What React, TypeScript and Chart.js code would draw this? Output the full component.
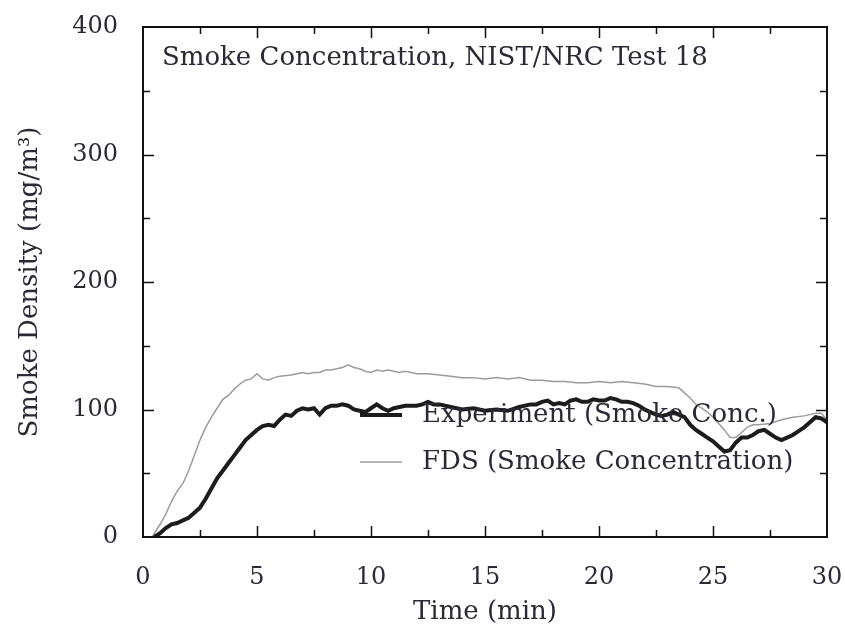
import { useEffect, useRef } from 'react';
import { Chart, registerables } from 'chart.js';

Chart.register(...registerables);

// ---- Data ----
const expTime = [
  0.5, 0.75, 1.0, 1.25, 1.5, 1.75, 2.0, 2.25, 2.5, 2.75, 3.0, 3.25, 3.5, 3.75, 4.0, 4.25, 4.5, 4.75,
  5.0, 5.25, 5.5, 5.75, 6.0, 6.25, 6.5, 6.75, 7.0, 7.25, 7.5, 7.75, 8.0, 8.25, 8.5, 8.75, 9.0, 9.25,
  9.5, 9.75, 10.0, 10.25, 10.5, 10.75, 11.0, 11.25, 11.5, 11.75, 12.0, 12.25, 12.5, 12.75, 13.0, 13.5,
  14.0, 14.5, 15.0, 15.5, 16.0, 16.5, 17.0, 17.25, 17.5, 17.75, 18.0, 18.25, 18.5, 18.75, 19.0, 19.25,
  19.5, 19.75, 20.0, 20.25, 20.5, 20.75, 21.0, 21.25, 21.5, 21.75, 22.0, 22.25, 22.5, 22.75, 23.0,
  23.25, 23.5, 23.75, 24.0, 24.25, 24.5, 24.75, 25.0, 25.25, 25.5, 25.75, 26.0, 26.25, 26.5, 26.75,
  27.0, 27.25, 27.5, 27.75, 28.0, 28.25, 28.5, 28.75, 29.0, 29.25, 29.5, 29.75, 30.0,
];
const expValue = [
  0, 3, 7, 10, 11, 13, 15, 19, 23, 30, 38, 46, 52, 58, 64, 70, 76, 80,
  84, 87, 88, 87, 92, 96, 95, 99, 101, 100, 101, 96, 101, 103, 103, 104, 103, 100,
  99, 98, 101, 104, 101, 99, 101, 102, 103, 103, 103, 104, 106, 104, 104, 102,
  100, 101, 99, 100, 99, 102, 104, 104, 106, 107, 104, 105, 104, 107, 108, 106,
  106, 108, 107, 107, 109, 108, 106, 106, 105, 103, 100, 98, 96, 95, 96,
  98, 96, 94, 88, 84, 81, 78, 75, 71, 67, 68, 74, 78, 78, 80,
  83, 84, 81, 78, 76, 78, 80, 83, 86, 90, 94, 93, 90,
];

const fdsTime = [
  0.4, 0.75, 1.0, 1.25, 1.5, 1.75, 2.0, 2.25, 2.5, 2.75, 3.0, 3.25, 3.5, 3.75, 4.0, 4.25, 4.5, 4.75,
  5.0, 5.25, 5.5, 5.75, 6.0, 6.5, 7.0, 7.25, 7.5, 7.75, 8.0, 8.25, 8.5, 8.75, 9.0, 9.25, 9.5, 9.75,
  10.0, 10.25, 10.5, 10.75, 11.0, 11.25, 11.5, 12.0, 12.5, 13.0, 13.5, 14.0, 14.5, 15.0, 15.5, 16.0,
  16.5, 17.0, 17.5, 18.0, 18.5, 19.0, 19.5, 20.0, 20.5, 21.0, 21.5, 22.0, 22.5, 23.0, 23.5, 23.75,
  24.0, 24.25, 24.5, 24.75, 25.0, 25.25, 25.5, 25.75, 26.0, 26.25, 26.5, 26.75, 27.0, 27.5, 28.0,
  28.5, 29.0, 29.5, 29.75, 30.0,
];
const fdsValue = [
  0, 10, 18, 28, 36, 42, 52, 64, 76, 86, 94, 101, 108, 111, 116, 120, 123, 124,
  128, 124, 123, 125, 126, 127, 129, 128, 129, 129, 131, 131, 132, 133, 135, 133, 132, 130,
  129, 131, 130, 131, 130, 129, 130, 128, 128, 127, 126, 125, 125, 124, 125, 124,
  125, 123, 123, 122, 122, 121, 121, 122, 121, 122, 121, 120, 118, 118, 117, 113,
  109, 104, 101, 98, 94, 89, 84, 78, 78, 82, 86, 88, 88, 89, 92,
  94, 95, 97, 97, 92,
];

const seriesNames = ['Experiment (Smoke Conc.)', 'FDS (Smoke Concentration)'];
const seriesColors = ['#1c1c1c', '#9c9c9c'];
const seriesWidths = [4, 1.5];

const chartTitle = 'Smoke Concentration, NIST/NRC Test 18';
const xAxisTitle = 'Time (min)';
const yAxisTitle = 'Smoke Density (mg/m³)';

const xMin = 0;
const xMax = 30;
const xStep = 2.5;
const xLabelEvery = 5;
const yMin = 0;
const yMax = 400;
const yStep = 50;
const yLabelEvery = 100;

const FONT = '"DejaVu Serif", "Liberation Serif", serif';
const TEXT_COLOR = '#2a2a36';

const framePlugin = {
  id: 'framePlugin',
  afterDatasetsDraw(chart: any) {
    const { ctx, chartArea: a, scales } = chart;
    const xs = scales.x;
    const ys = scales.y;
    ctx.save();

    // inside title
    ctx.font = `26px ${FONT}`;
    ctx.fillStyle = TEXT_COLOR;
    ctx.textAlign = 'left';
    ctx.textBaseline = 'alphabetic';
    ctx.fillText(chartTitle, a.left + 19, a.top + 38);

    // legend
    const rows = [415, 462];
    chart.data.datasets.forEach((ds: any, i: number) => {
      const y = rows[i];
      ctx.strokeStyle = ds.borderColor;
      ctx.lineWidth = ds.borderWidth;
      ctx.beginPath();
      ctx.moveTo(360, y);
      ctx.lineTo(402, y);
      ctx.stroke();
      ctx.fillStyle = TEXT_COLOR;
      ctx.textBaseline = 'middle';
      ctx.fillText(ds.label, 422, y);
    });

    // inward tick marks on all four sides
    ctx.strokeStyle = '#111';
    ctx.lineWidth = 1.5;
    ctx.beginPath();
    for (const t of xs.ticks) {
      if (t.value <= xMin || t.value >= xMax) continue;
      const p = Math.round(xs.getPixelForValue(t.value)) + 0.5;
      const len = t.value % xLabelEvery === 0 ? 11 : 7;
      ctx.moveTo(p, a.bottom);
      ctx.lineTo(p, a.bottom - len);
      ctx.moveTo(p, a.top);
      ctx.lineTo(p, a.top + len);
    }
    for (const t of ys.ticks) {
      if (t.value <= yMin || t.value >= yMax) continue;
      const p = Math.round(ys.getPixelForValue(t.value)) + 0.5;
      const len = t.value % yLabelEvery === 0 ? 11 : 7;
      ctx.moveTo(a.left, p);
      ctx.lineTo(a.left + len, p);
      ctx.moveTo(a.right, p);
      ctx.lineTo(a.right - len, p);
    }
    ctx.stroke();

    // frame
    ctx.lineWidth = 2;
    ctx.strokeRect(a.left, a.top, a.right - a.left, a.bottom - a.top);
    ctx.restore();
  },
};

export default function App() {
  const canvasRef = useRef<HTMLCanvasElement | null>(null);

  useEffect(() => {
    const canvas = canvasRef.current;
    if (!canvas) return;
    const chart = new Chart(canvas, {
      type: 'line',
      data: {
        datasets: [
          {
            label: seriesNames[0],
            data: expTime.map((t, i) => ({ x: t, y: expValue[i] })),
            borderColor: seriesColors[0],
            borderWidth: seriesWidths[0],
            pointRadius: 0,
            tension: 0,
            fill: false,
          },
          {
            label: seriesNames[1],
            data: fdsTime.map((t, i) => ({ x: t, y: fdsValue[i] })),
            borderColor: seriesColors[1],
            borderWidth: seriesWidths[1],
            pointRadius: 0,
            tension: 0,
            fill: false,
          },
        ],
      },
      options: {
        animation: false,
        responsive: true,
        maintainAspectRatio: false,
        devicePixelRatio: 1,
        layout: { padding: { top: 27, right: 18, left: 0, bottom: 0 } },
        plugins: {
          legend: { display: false },
          tooltip: { enabled: false },
          title: { display: false },
        },
        scales: {
          x: {
            type: 'linear',
            min: xMin,
            max: xMax,
            grid: { display: false, drawTicks: false },
            border: { display: false },
            afterFit: (s: any) => {
              s.height = 98;
              s.paddingLeft = 0;
              s.paddingRight = 0;
            },
            ticks: {
              stepSize: xStep,
              autoSkip: false,
              maxRotation: 0,
              padding: 26,
              color: TEXT_COLOR,
              font: { family: FONT, size: 24 },
              callback: (v: any) => (Number(v) % xLabelEvery === 0 ? String(v) : ''),
            },
            title: {
              display: true,
              text: xAxisTitle,
              color: TEXT_COLOR,
              font: { family: FONT, size: 26 },
              padding: { top: 0, bottom: 7 },
            },
          },
          y: {
            type: 'linear',
            min: yMin,
            max: yMax,
            grid: { display: false, drawTicks: false },
            border: { display: false },
            afterFit: (s: any) => {
              s.width = 143;
              s.paddingTop = 0;
              s.paddingBottom = 0;
            },
            ticks: {
              stepSize: yStep,
              autoSkip: false,
              padding: 25,
              color: TEXT_COLOR,
              font: { family: FONT, size: 24 },
              callback: (v: any) => (Number(v) % yLabelEvery === 0 ? String(v) : ''),
            },
            title: {
              display: true,
              text: yAxisTitle,
              color: TEXT_COLOR,
              font: { family: FONT, size: 26 },
              padding: { top: 15, bottom: 0 },
            },
          },
        },
      },
      plugins: [framePlugin],
    });
    return () => chart.destroy();
  }, []);

  return (
    <div style={{ position: 'absolute', left: 0, top: 0, width: 845, height: 635, background: '#fff' }}>
      <canvas ref={canvasRef} />
    </div>
  );
}
